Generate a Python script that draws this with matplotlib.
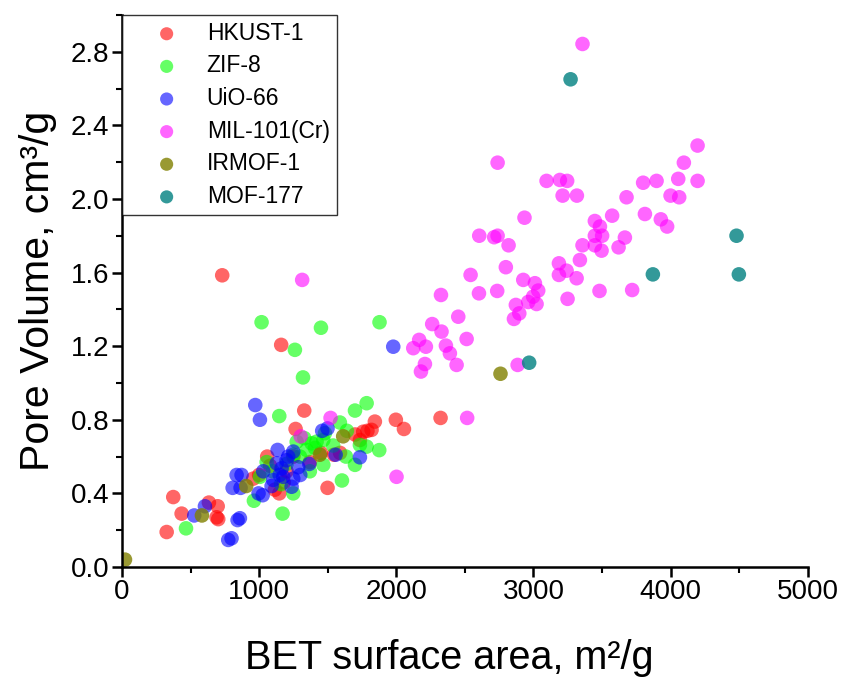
import matplotlib
matplotlib.use('Agg')
import matplotlib.pyplot as plt
from matplotlib.ticker import MultipleLocator, FormatStrFormatter

plt.rcParams['font.family'] = ['Liberation Sans', 'DejaVu Sans']

# data: BET area (m2/g) and pore volume (cm3/g)
hkust_x = [326, 374, 435, 634, 698, 702, 690, 731, 957, 1059, 1161, 1329, 1266, 1080,
           1147, 1115, 1499, 1546, 1735, 1759, 1820, 1844, 1997, 2056, 2323, 1200, 1250,
           1450, 1590, 1000, 1180, 1370, 1700, 1790]
hkust_y = [0.19, 0.38, 0.29, 0.35, 0.33, 0.26, 0.27, 1.585, 0.48, 0.60, 1.207, 0.85, 0.75, 0.55,
           0.40, 0.42, 0.43, 0.61, 0.69, 0.735, 0.745, 0.79, 0.80, 0.75, 0.81, 0.52, 0.60,
           0.62, 0.62, 0.50, 0.46, 0.57, 0.72, 0.74]

zif_x = [467, 962, 1018, 1451, 1261, 1320, 1878, 1147, 1699, 1784, 1604, 1171, 1876, 1699,
         1633, 1468, 1370, 1249, 1589, 1346, 1383, 1419, 1468, 1480, 1298, 1249, 1055, 1006,
         1274, 1784, 1735, 1407, 1100, 1200, 1540, 1640, 1330, 1160]
zif_y = [0.21, 0.36, 1.33, 1.30, 1.18, 1.03, 1.33, 0.82, 0.85, 0.89, 0.47, 0.29, 0.635, 0.555,
         0.60, 0.555, 0.52, 0.40, 0.785, 0.636, 0.672, 0.681, 0.69, 0.727, 0.60, 0.61, 0.57, 0.49,
         0.68, 0.654, 0.663, 0.647, 0.52, 0.56, 0.66, 0.74, 0.70, 0.45]

uio_x = [527, 605, 775, 799, 843, 860, 836, 872, 807, 865, 1026, 996, 1030, 1978, 972, 1006,
         1499, 1135, 1212, 1249, 1366, 1285, 1558, 1735, 1164, 1176, 1249, 1237, 1091, 1128,
         1103, 1200, 1150, 1300, 1460]
uio_y = [0.28, 0.33, 0.147, 0.156, 0.255, 0.265, 0.50, 0.50, 0.43, 0.43, 0.39, 0.40, 0.52, 1.197,
         0.88, 0.80, 0.753, 0.636, 0.60, 0.627, 0.56, 0.542, 0.61, 0.596, 0.536, 0.49, 0.48, 0.436,
         0.44, 0.563, 0.473, 0.58, 0.50, 0.50, 0.74]

mil_x = [3358, 2739, 3096, 3193, 3246, 3213, 3317, 3679, 3800, 3898, 4056, 4197, 4097, 4197,
         4000, 4063, 3813, 3574, 3929, 3975, 3448, 3485, 3448, 3501, 3667, 3621, 3448, 3497,
         3358, 3339, 3186, 3186, 3242, 3315, 3482, 3720, 3249, 2935, 2605, 2714, 2739, 2819,
         2799, 2542, 2603, 2736, 2926, 3011, 3035, 2998, 3023, 2962, 2872, 2897, 2858, 2326,
         2452, 2262, 2330, 2513, 2362, 2391, 2440, 2167, 2124, 2216, 2209, 2180, 2885, 1314,
         2517, 1521, 1303, 2002]
mil_y = [2.842, 2.197, 2.098, 2.103, 2.098, 2.018, 2.018, 2.009, 2.088, 2.098, 2.109, 2.098, 2.197,
         2.29, 2.018, 2.009, 1.918, 1.909, 1.889, 1.85, 1.88, 1.85, 1.80, 1.80, 1.79, 1.737, 1.748,
         1.719, 1.748, 1.668, 1.65, 1.587, 1.61, 1.569, 1.50, 1.505, 1.457, 1.898, 1.80, 1.792,
         1.80, 1.748, 1.629, 1.587, 1.487, 1.50, 1.56, 1.542, 1.502, 1.469, 1.429, 1.44, 1.424,
         1.378, 1.348, 1.478, 1.36, 1.32, 1.279, 1.239, 1.203, 1.161, 1.098, 1.234, 1.189, 1.197,
         1.103, 1.062, 1.098, 1.56, 0.81, 0.81, 0.71, 0.49]

irmof_x = [22, 583, 906, 1443, 1613, 2760]
irmof_y = [0.04, 0.28, 0.44, 0.61, 0.71, 1.05]

mof177_x = [3271, 2969, 3871, 4481, 4498]
mof177_y = [2.65, 1.11, 1.59, 1.80, 1.59]

series = [
    ('HKUST-1', hkust_x, hkust_y, '#ff0000', 0.6),
    ('ZIF-8', zif_x, zif_y, '#00ff00', 0.6),
    ('UiO-66', uio_x, uio_y, '#0000ff', 0.6),
    ('MIL-101(Cr)', mil_x, mil_y, '#ff00ff', 0.6),
    ('IRMOF-1', irmof_x, irmof_y, '#808000', 0.8),
    ('MOF-177', mof177_x, mof177_y, '#008080', 0.8),
]

fig = plt.figure(figsize=(8.44, 6.77), dpi=100)
ax = fig.add_axes([0.1445, 0.1625, 0.8125, 0.8155])

for name, xs, ys, col, a in series:
    ax.scatter(xs, ys, s=110, color=col, alpha=a, edgecolors='none', label=name)

ax.set_xlim(0, 5000)
ax.set_ylim(0, 3.0)
ax.xaxis.set_major_locator(MultipleLocator(1000))
ax.xaxis.set_minor_locator(MultipleLocator(500))
ax.yaxis.set_major_locator(MultipleLocator(0.4))
ax.yaxis.set_minor_locator(MultipleLocator(0.2))
ax.yaxis.set_major_formatter(FormatStrFormatter('%.1f'))

for side in ['top', 'right']:
    ax.spines[side].set_visible(False)
for side in ['left', 'bottom']:
    ax.spines[side].set_linewidth(1.8)
ax.tick_params(which='major', direction='out', length=7, width=1.8, labelsize=20, pad=2)
ax.tick_params(which='minor', direction='out', length=4, width=1.5)

ax.set_xlabel('BET surface area, m²/g', fontsize=28.5)
ax.set_ylabel('Pore Volume, cm³/g', fontsize=29.5)
ax.xaxis.set_label_coords(0.478, -0.13)
ax.yaxis.set_label_coords(-0.095, 0.5)

leg = ax.legend(loc='upper left', prop={'size': 16.5}, frameon=True, fancybox=False,
                edgecolor='black', markerscale=0.9, handlelength=3.3, handletextpad=0.1,
                borderaxespad=0.0, borderpad=0.3, labelspacing=0.42, scatterpoints=1)
leg.get_frame().set_linewidth(1.0)

fig.savefig('out.png', dpi=100)
